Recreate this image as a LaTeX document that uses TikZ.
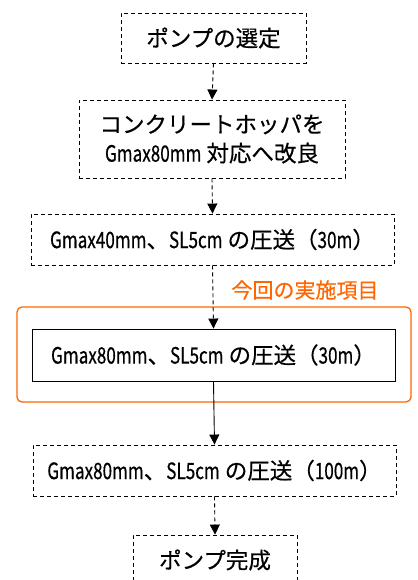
\documentclass[tikz,border=0pt]{standalone}
\usepackage{fontspec}
\setmainfont[FakeBold=0.4]{Noto Sans CJK JP}
\newfontfamily\ltfont[FakeStretch=0.76,FakeBold=0.4]{Noto Sans CJK JP}
\newcommand{\lat}[1]{{\ltfont #1}}
\usetikzlibrary{arrows.meta}
\definecolor{accent}{RGB}{255,102,0}
\tikzset{
  stepbox/.style={draw=black, line width=0.9pt, dash pattern=on 4pt off 3pt, inner sep=0pt, font=\fontsize{22.5}{29}\selectfont},
  solidbox/.style={draw=black, line width=0.9pt, inner sep=0pt, font=\fontsize{22.5}{29}\selectfont},
  flow/.style={line width=0.9pt, dash pattern=on 4pt off 3pt, -{Triangle[length=10pt,width=10pt]}},
  solidflow/.style={line width=0.9pt, -{Triangle[length=10pt,width=10pt]}},
}
\begin{document}
\begin{tikzpicture}[x=1pt,y=-1pt]
\useasboundingbox (0,0) rectangle (417,580);
\draw[accent, line width=1.3pt, rounded corners=5pt] (17,307) rectangle (411,402);
\node[text=accent, font=\fontsize{21}{24}\selectfont] (lbl) at (305,290) {今回の実施項目};
\node[stepbox, minimum width=185pt, minimum height=50pt] (a) at (213.5,38) {ポンプの選定};
\node[stepbox, minimum width=266pt, minimum height=78pt, align=center] (b) at (212,139) {コンクリートホッパを\\\lat{Gmax80mm} 対応へ改良};
\node[stepbox, minimum width=363pt, minimum height=51pt] (c) at (212.5,239.5) {\lat{Gmax40mm}、\lat{SL5cm} の圧送（\lat{30m}）};
\node[solidbox, minimum width=363pt, minimum height=52pt] (d) at (213.5,355) {\lat{Gmax80mm}、\lat{SL5cm} の圧送（\lat{30m}）};
\node[stepbox, minimum width=363pt, minimum height=51pt] (e) at (214.5,470.5) {\lat{Gmax80mm}、\lat{SL5cm} の圧送（\lat{100m}）};
\node[stepbox, minimum width=164pt, minimum height=50pt] (f) at (215,560) {ポンプ完成};
\draw[flow] (a.south) -- (b.north);
\draw[flow] (b.south) -- (c.north);
\draw[flow] (c.south) -- (d.north);
\draw[solidflow] (d.south) -- (e.north);
\draw[flow] (e.south) -- (f.north);
\end{tikzpicture}
\end{document}
